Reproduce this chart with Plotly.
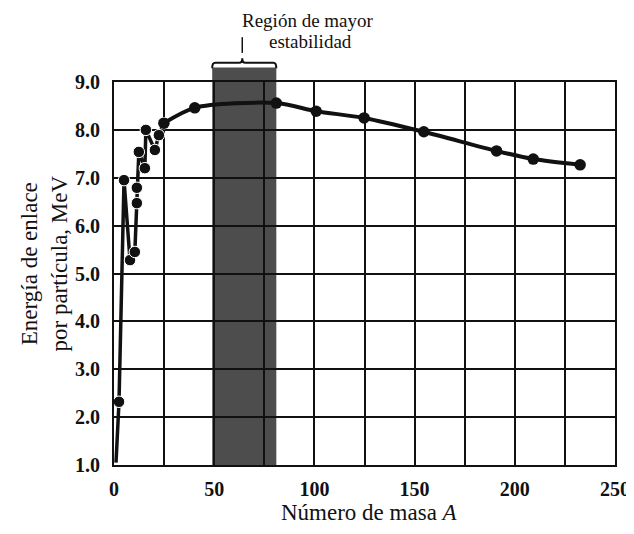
import plotly.graph_objects as go

# Data
mass_A = [1.0, 2.5, 5.0, 8.0, 10.4, 11.4, 11.4, 12.4, 15.4, 15.9, 20.4, 22.4, 24.9,
          40.3, 81.0, 100.9, 124.8, 154.6, 190.9, 209.2, 232.6]
energy = [1.05, 2.32, 6.95, 5.28, 5.45, 6.47, 6.79, 7.54, 7.20, 8.00, 7.58, 7.89, 8.14,
          8.46, 8.56, 8.39, 8.25, 7.96, 7.56, 7.39, 7.27]
marker_on = [0] + [1] * (len(mass_A) - 1)
split_idx = 12  # light nuclei zig-zag (straight segments) vs. smooth curve

stable_lo, stable_hi = 49, 81
brace_mid = 64
x_ticks = [0, 50, 100, 150, 200, 250]
y_ticks = [1, 2, 3, 4, 5, 6, 7, 8, 9]

region_label_lines = ["Región de mayor", "estabilidad"]
y_title = "Energía de enlace<br>por partícula, MeV"
x_title = "Número de masa <i>A</i>"

FONT = "Liberation Serif"
BLACK = "#111111"

fig = go.Figure()

# light nuclei: straight zig-zag
fig.add_trace(go.Scatter(
    x=mass_A[:split_idx + 1], y=energy[:split_idx + 1],
    mode="lines+markers",
    line=dict(color=BLACK, width=3.5),
    marker=dict(color=BLACK, opacity=1,
                size=[11.5 * m for m in marker_on[:split_idx + 1]]),
    showlegend=False, cliponaxis=False,
))
# heavier nuclei: smooth curve
fig.add_trace(go.Scatter(
    x=mass_A[split_idx:], y=energy[split_idx:],
    mode="lines+markers",
    line=dict(color=BLACK, width=4, shape="spline", smoothing=0.8),
    marker=dict(color=BLACK, size=11.5, opacity=1),
    showlegend=False, cliponaxis=False,
))

shapes = [
    dict(type="rect", xref="x", yref="paper", x0=stable_lo, x1=stable_hi,
         y0=0, y1=1.038, fillcolor="#4d4d4d", line=dict(width=0), layer="below"),
    dict(type="path", xref="x", yref="paper",
         path=f"M {stable_lo},1.036 Q {stable_lo},1.05 {stable_lo+1.5},1.05 L {brace_mid-1.5},1.05 "
              f"Q {brace_mid},1.05 {brace_mid},1.062 Q {brace_mid},1.05 {brace_mid+1.5},1.05 "
              f"L {stable_hi-1.5},1.05 Q {stable_hi},1.05 {stable_hi},1.036",
         line=dict(color=BLACK, width=2)),
    dict(type="line", xref="x", yref="paper", x0=brace_mid, x1=brace_mid, y0=1.076, y1=1.117,
         line=dict(color=BLACK, width=1.5)),
]

annotations = [
    dict(text=region_label_lines[0], xref="paper", yref="paper", x=0.388, y=1.161,
         xanchor="center", yanchor="middle", showarrow=False,
         font=dict(family=FONT, size=19, color=BLACK)),
    dict(text=region_label_lines[1], xref="paper", yref="paper", x=0.392, y=1.105,
         xanchor="center", yanchor="middle", showarrow=False,
         font=dict(family=FONT, size=19, color=BLACK)),
    dict(text=y_title, xref="paper", yref="paper", x=-0.139, y=0.527,
         xanchor="center", yanchor="middle", showarrow=False, align="center",
         textangle=-90, font=dict(family=FONT, size=23, color=BLACK)),
    dict(text=x_title, xref="paper", yref="paper", x=0.509, y=-0.123,
         xanchor="center", yanchor="middle", showarrow=False,
         font=dict(family=FONT, size=23, color=BLACK)),
]

tickfont = dict(family=FONT, size=20, color=BLACK, weight="bold")

fig.update_layout(
    width=634, height=534,
    margin=dict(l=106, r=25, t=74, b=77),
    paper_bgcolor="white", plot_bgcolor="white",
    font=dict(family=FONT, size=20, color=BLACK),
    shapes=shapes, annotations=annotations,
    xaxis=dict(range=[0, 250], tickvals=x_ticks, showgrid=True,
               gridcolor=BLACK, gridwidth=1.5,
               minor=dict(dtick=25, showgrid=True, gridcolor=BLACK, gridwidth=1.5),
               showline=True, linecolor=BLACK, linewidth=2, mirror=True,
               zeroline=False, ticks="", tickfont=tickfont, ticklabelstandoff=5),
    yaxis=dict(range=[1, 9], tickvals=y_ticks, tickformat=".1f", showgrid=True,
               gridcolor=BLACK, gridwidth=1.5,
               showline=True, linecolor=BLACK, linewidth=2, mirror=True,
               zeroline=False, ticks="", tickfont=tickfont, ticklabelstandoff=8),
)

fig.write_html("out.html")
